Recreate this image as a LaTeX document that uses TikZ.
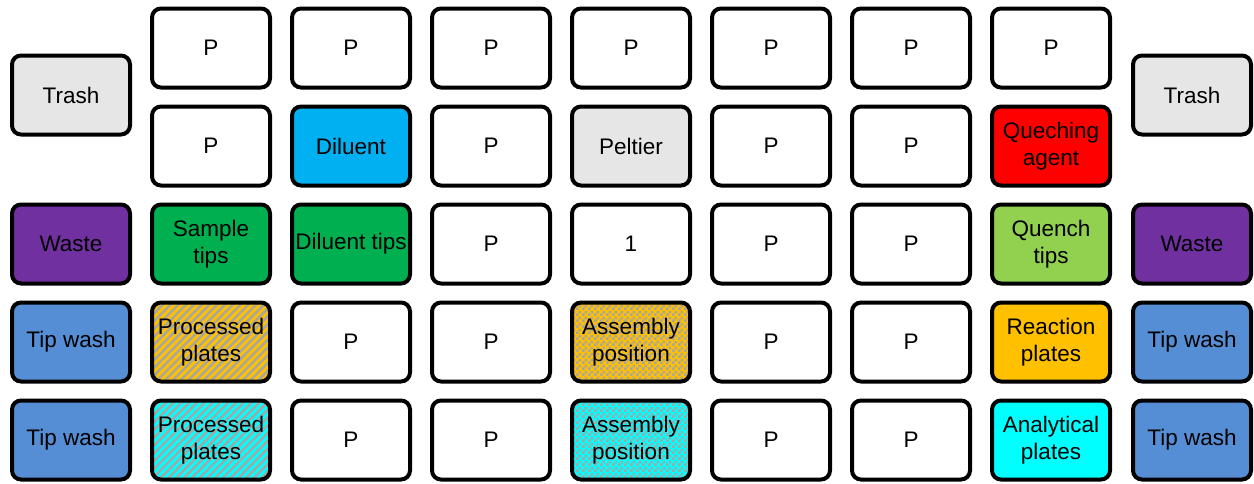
\documentclass[tikz,border=0pt]{standalone}
\usepackage{fontspec}
\setmainfont{Liberation Sans}
\usetikzlibrary{patterns,patterns.meta}
\pgfdeclarepatternformonly{mychecker}{\pgfqpoint{0pt}{0pt}}{\pgfqpoint{6pt}{6pt}}{\pgfqpoint{6pt}{6pt}}{%
  \pgfpathrectangle{\pgfpointorigin}{\pgfqpoint{3pt}{3pt}}%
  \pgfpathrectangle{\pgfqpoint{3pt}{3pt}}{\pgfqpoint{3pt}{3pt}}%
  \pgfusepath{fill}}
\definecolor{trashc}{HTML}{E7E6E6}
\definecolor{wastec}{HTML}{7030A0}
\definecolor{washc}{HTML}{558ED5}
\definecolor{dilc}{HTML}{00B0F0}
\definecolor{redc}{HTML}{FF0000}
\definecolor{greenc}{HTML}{00B050}
\definecolor{lgreenc}{HTML}{92D050}
\definecolor{orangec}{HTML}{FFC000}
\definecolor{cyanc}{HTML}{00FFFF}
\definecolor{patc}{HTML}{A6A6A6}
\tikzset{
  box/.style={draw=black, line width=4pt, rounded corners=9pt,
    minimum width=118pt, minimum height=79pt, inner sep=0pt,
    align=center, font=\fontsize{22.5}{27}\selectfont, text=black},
  plain/.style={box, fill=white},
  striped/.style={box, preaction={fill=#1},
    preaction={pattern={Lines[distance=5.5pt, angle=45, line width=2.4pt]}, pattern color=patc}},
  checked/.style={box, preaction={fill=#1},
    preaction={pattern=mychecker, pattern color=patc}},
}
\begin{document}
\begin{tikzpicture}[x=1pt,y=-1pt]
\useasboundingbox (0,0) rectangle (1254,483);
% side columns
\node[box, fill=trashc] (trashL) at (71,95) {Trash};
\node[box, fill=trashc] (trashR) at (1192,95) {Trash};
\node[box, fill=wastec] (wasteL) at (71,244) {Waste};
\node[box, fill=wastec] (wasteR) at (1192,244) {Waste};
\node[box, fill=washc] (washL1) at (71,342) {Tip wash};
\node[box, fill=washc] (washR1) at (1192,342) {Tip wash};
\node[box, fill=washc] (washL2) at (71,440) {Tip wash};
\node[box, fill=washc] (washR2) at (1192,440) {Tip wash};
% row 1
\foreach \i/\x in {1/211,2/351,3/491,4/631,5/771,6/911,7/1051}
  \node[plain] (r1c\i) at (\x,48) {P};
% row 2
\node[plain] (r2c1) at (211,146) {P};
\node[box, fill=dilc] (r2c2) at (351,146) {Diluent};
\node[plain] (r2c3) at (491,146) {P};
\node[box, fill=trashc] (r2c4) at (631,146) {Peltier};
\node[plain] (r2c5) at (771,146) {P};
\node[plain] (r2c6) at (911,146) {P};
\node[box, fill=redc] (r2c7) at (1051,146) {Queching\\agent};
% row 3
\node[box, fill=greenc] (r3c1) at (211,244) {Sample\\tips};
\node[box, fill=greenc] (r3c2) at (351,244) {Diluent tips};
\node[plain] (r3c3) at (491,244) {P};
\node[plain] (r3c4) at (631,244) {1};
\node[plain] (r3c5) at (771,244) {P};
\node[plain] (r3c6) at (911,244) {P};
\node[box, fill=lgreenc] (r3c7) at (1051,244) {Quench\\tips};
% row 4
\node[striped=orangec] (r4c1) at (211,342) {Processed\\plates};
\node[plain] (r4c2) at (351,342) {P};
\node[plain] (r4c3) at (491,342) {P};
\node[checked=orangec] (r4c4) at (631,342) {Assembly\\position};
\node[plain] (r4c5) at (771,342) {P};
\node[plain] (r4c6) at (911,342) {P};
\node[box, fill=orangec] (r4c7) at (1051,342) {Reaction\\plates};
% row 5
\node[striped=cyanc] (r5c1) at (211,440) {Processed\\plates};
\node[plain] (r5c2) at (351,440) {P};
\node[plain] (r5c3) at (491,440) {P};
\node[checked=cyanc] (r5c4) at (631,440) {Assembly\\position};
\node[plain] (r5c5) at (771,440) {P};
\node[plain] (r5c6) at (911,440) {P};
\node[box, fill=cyanc] (r5c7) at (1051,440) {Analytical\\plates};
\end{tikzpicture}
\end{document}
